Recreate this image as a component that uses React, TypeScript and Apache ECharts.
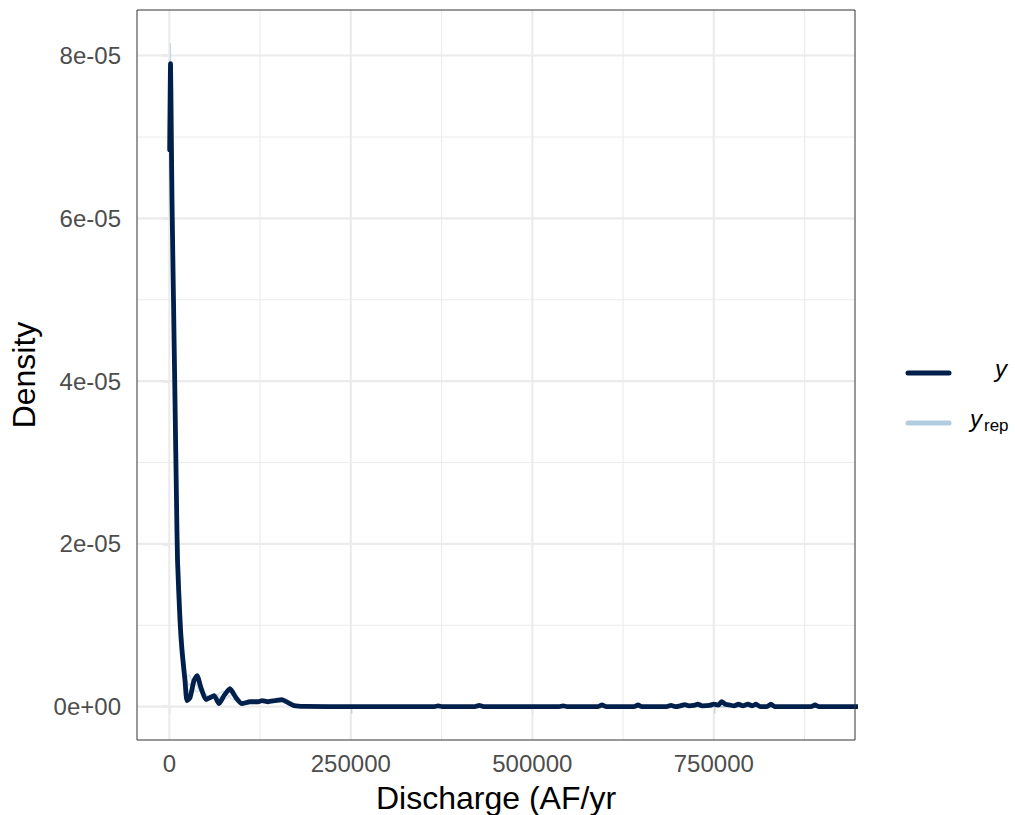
import React, { useEffect, useRef } from "react";
import * as echarts from "echarts";

// ---- data ----
const yX = [500, 1700, 2600, 3720, 5790, 7850, 9920, 11300, 14740, 17490, 21630, 24380, 28500, 34000, 38200, 43700, 50500, 56000, 61600, 68500, 75400, 83600, 91900, 100100, 111200, 122200, 127700, 136000, 145600, 155200, 163500, 171800, 186900, 250000, 365000, 370400, 376000, 421000, 426800, 433000, 537000, 542500, 548000, 590000, 596000, 602000, 640000, 645600, 651000, 685000, 691000, 697000, 704000, 710000, 716000, 722000, 728000, 734000, 744000, 750000, 756000, 761000, 766000, 772000, 778000, 784000, 790000, 797000, 803000, 808000, 814000, 823000, 828700, 834000, 884000, 889300, 895000, 930000, 970000];
const yDensity = [6.84e-5, 7.9e-5, 7.2e-5, 6.22e-5, 4.99e-5, 3.76e-5, 2.53e-5, 1.8e-5, 1.06e-5, 6.9e-6, 3.2e-6, 7.4e-7, 1.1e-6, 3.2e-6, 3.8e-6, 2.3e-6, 8.6e-7, 1.1e-6, 1.35e-6, 3.7e-7, 1.35e-6, 2.2e-6, 1.1e-6, 3.7e-7, 6e-7, 6e-7, 7.4e-7, 6e-7, 7.4e-7, 8.6e-7, 4.9e-7, 1.2e-7, 2e-8, 0, 0, 1e-7, 0, 0, 1.5e-7, 0, 0, 1e-7, 0, 0, 2e-7, 0, 0, 2e-7, 0, 0, 1.5e-7, 0, 1e-7, 2.5e-7, 1e-7, 1.5e-7, 3e-7, 1e-7, 1.5e-7, 3e-7, 2e-7, 6e-7, 3e-7, 2e-7, 1e-7, 3e-7, 1e-7, 3e-7, 1e-7, 3e-7, 0, 0, 3e-7, 0, 0, 2e-7, 0, 0, 0];

const repX = [500, 1500, 2500, 4000, 6000, 8000, 10000, 12000, 15000, 18000, 21000, 24000, 27000, 30000, 34000, 38000, 42000, 46000, 50000, 55000, 60000, 65000, 70000, 75000, 80000, 85000, 90000, 95000, 100000, 110000, 120000, 130000, 140000, 150000, 160000, 170000, 180000, 200000, 300000, 500000, 700000, 970000];
const rep1 = [6.9e-5, 8.15e-5, 7.4e-5, 6.0e-5, 4.4e-5, 3.4e-5, 2.7e-5, 2.1e-5, 1.4e-5, 8.5e-6, 5.0e-6, 2.8e-6, 1.8e-6, 1.9e-6, 2.8e-6, 3.2e-6, 2.4e-6, 1.6e-6, 1.2e-6, 1.3e-6, 1.4e-6, 1.1e-6, 9e-7, 1.2e-6, 1.8e-6, 1.6e-6, 1.0e-6, 6e-7, 5e-7, 6e-7, 7e-7, 6e-7, 7e-7, 8e-7, 6e-7, 2e-7, 5e-8, 0, 0, 0, 0, 0];
const rep2 = [6.6e-5, 7.7e-5, 7.5e-5, 6.3e-5, 4.7e-5, 3.6e-5, 2.8e-5, 2.2e-5, 1.5e-5, 9.5e-6, 6e-6, 3.5e-6, 2.6e-6, 2.9e-6, 3.0e-6, 2.5e-6, 1.9e-6, 1.7e-6, 1.5e-6, 1.2e-6, 1.0e-6, 1.3e-6, 1.7e-6, 1.9e-6, 1.5e-6, 1.0e-6, 8e-7, 7e-7, 6e-7, 5e-7, 7e-7, 8e-7, 6e-7, 5e-7, 6e-7, 4e-7, 1e-7, 0, 0, 0, 0, 0];
const rep3 = [6.5e-5, 7.8e-5, 7.2e-5, 6.1e-5, 4.5e-5, 3.5e-5, 2.6e-5, 1.9e-5, 1.2e-5, 7e-6, 4.2e-6, 3.6e-6, 3.9e-6, 3.4e-6, 2.2e-6, 1.8e-6, 2.0e-6, 2.2e-6, 1.6e-6, 1.1e-6, 1.2e-6, 1.5e-6, 1.2e-6, 9e-7, 1.1e-6, 1.4e-6, 1.2e-6, 8e-7, 5e-7, 4e-7, 5e-7, 7e-7, 9e-7, 7e-7, 4e-7, 3e-7, 1e-7, 0, 0, 0, 0, 0];
const rep4 = [6.7e-5, 7.95e-5, 7.3e-5, 6.2e-5, 4.6e-5, 3.3e-5, 2.5e-5, 2.0e-5, 1.3e-5, 8e-6, 4.6e-6, 2.2e-6, 1.5e-6, 2.4e-6, 3.5e-6, 3.0e-6, 2.0e-6, 1.3e-6, 1.0e-6, 1.0e-6, 1.3e-6, 1.2e-6, 1.0e-6, 1.4e-6, 2.0e-6, 1.8e-6, 1.1e-6, 7e-7, 4e-7, 5e-7, 6e-7, 5e-7, 6e-7, 7e-7, 5e-7, 3e-7, 5e-8, 0, 0, 0, 0, 0];
const reps = [rep1, rep2, rep3, rep4];

const xTickValues = [0, 250000, 500000, 750000];
const xTickLabels = ["0", "250000", "500000", "750000"];
const xMinorValues = [125000, 375000, 625000, 875000];
const yTickValues = [0, 2e-5, 4e-5, 6e-5, 8e-5];
const yTickLabels = ["0e+00", "2e-05", "4e-05", "6e-05", "8e-05"];
const yMinorValues = [1e-5, 3e-5, 5e-5, 7e-5];

const X_MIN = -44490;
const X_MAX = 944490;
const Y_MIN = -4.1e-6;
const Y_MAX = 8.56e-5;

const DARK = "#011F4B";
const LIGHT = "#b3cde0";
const GRID = "#EBEBEB";
const FONT = "Liberation Sans, Arial, Helvetica, sans-serif";

function labelFor(values: number[], labels: string[], v: number) {
  const i = values.findIndex((t) => Math.abs(t - v) <= Math.abs(t) * 1e-9 + 1e-15);
  return i >= 0 ? labels[i] : "";
}

function gridSeries(data: number[][], width: number) {
  return {
    type: "line",
    z: 0,
    silent: true,
    showSymbol: false,
    symbol: "none",
    clip: true,
    data,
    lineStyle: { color: GRID, width },
  };
}

export default function App() {
  const ref = useRef<HTMLDivElement>(null);
  useEffect(() => {
    document.body.style.margin = "0";
    if (!ref.current) return;
    const chart = echarts.init(ref.current, undefined, { renderer: "svg" });

    const grids: any[] = [];
    xMinorValues.forEach((v) => grids.push(gridSeries([[v, Y_MIN], [v, Y_MAX]], 1.1)));
    yMinorValues.forEach((v) => grids.push(gridSeries([[X_MIN, v], [X_MAX, v]], 1.1)));
    xTickValues.forEach((v) => grids.push(gridSeries([[v, Y_MIN], [v, Y_MAX]], 2.1)));
    yTickValues.forEach((v) => grids.push(gridSeries([[X_MIN, v], [X_MAX, v]], 2.1)));

    const option: any = {
      animation: false,
      backgroundColor: "#ffffff",
      grid: {
        left: 137,
        right: 160,
        top: 10,
        bottom: 75,
        show: true,
        borderColor: "#333333",
        borderWidth: 1,
        backgroundColor: "transparent",
        z: 10,
      },
      xAxis: {
        type: "value",
        min: X_MIN,
        max: X_MAX,
        axisLine: { show: false },
        splitLine: { show: false },
        axisTick: {
          show: true,
          customValues: xTickValues,
          length: 7,
          lineStyle: { color: "#333333", width: 1.2 },
        },
        axisLabel: {
          customValues: xTickValues,
          formatter: (v: number) => labelFor(xTickValues, xTickLabels, v),
          color: "#4D4D4D",
          fontSize: 24,
          fontFamily: FONT,
          margin: 11,
        },
      },
      yAxis: {
        type: "value",
        min: Y_MIN,
        max: Y_MAX,
        axisLine: { show: false },
        splitLine: { show: false },
        axisTick: {
          show: true,
          customValues: yTickValues,
          length: 7,
          lineStyle: { color: "#333333", width: 1.2 },
        },
        axisLabel: {
          customValues: yTickValues,
          formatter: (v: number) => labelFor(yTickValues, yTickLabels, v),
          color: "#4D4D4D",
          fontSize: 24,
          fontFamily: FONT,
          margin: 16,
        },
      },
      series: [
        ...grids,
        ...reps.map((r) => ({
          type: "line",
          z: 2,
          silent: true,
          showSymbol: false,
          symbol: "none",
          smooth: 0.2,
          clip: true,
          data: repX.map((x, i) => [x, r[i]]),
          lineStyle: { color: LIGHT, width: 1.2, opacity: 0.7 },
        })),
        {
          type: "line",
          z: 3,
          silent: true,
          showSymbol: false,
          symbol: "none",
          smooth: 0.2,
          clip: true,
          data: yX.map((x, i) => [x, yDensity[i]]),
          lineStyle: { color: DARK, width: 4.8, cap: "round", join: "round" },
        },
      ],
      graphic: [
        {
          type: "text",
          x: 496,
          y: 798,
          style: {
            text: "Discharge (AF/yr",
            font: `32px ${FONT}`,
            fill: "#000000",
            align: "center",
            verticalAlign: "middle",
          },
        },
        {
          type: "text",
          x: 24,
          y: 375,
          rotation: Math.PI / 2,
          style: {
            text: "Density",
            font: `32px ${FONT}`,
            fill: "#000000",
            align: "center",
            verticalAlign: "middle",
          },
        },
        {
          type: "line",
          shape: { x1: 908, y1: 373, x2: 949, y2: 373 },
          style: { stroke: DARK, lineWidth: 5, lineCap: "round" },
        },
        {
          type: "line",
          shape: { x1: 908, y1: 423, x2: 949, y2: 423 },
          style: { stroke: LIGHT, lineWidth: 5, lineCap: "round" },
        },
        {
          type: "text",
          x: 1007,
          y: 368,
          style: {
            text: "y",
            font: `italic 24px ${FONT}`,
            fill: "#000000",
            align: "right",
            verticalAlign: "middle",
          },
        },
        {
          type: "text",
          x: 970,
          y: 418,
          style: {
            text: "y",
            font: `italic 24px ${FONT}`,
            fill: "#000000",
            align: "left",
            verticalAlign: "middle",
          },
        },
        {
          type: "text",
          x: 984,
          y: 425,
          style: {
            text: "rep",
            font: `17px ${FONT}`,
            fill: "#000000",
            align: "left",
            verticalAlign: "middle",
          },
        },
      ],
    };
    chart.setOption(option);
    return () => chart.dispose();
  }, []);
  return <div ref={ref} style={{ width: 1015, height: 815 }} />;
}
